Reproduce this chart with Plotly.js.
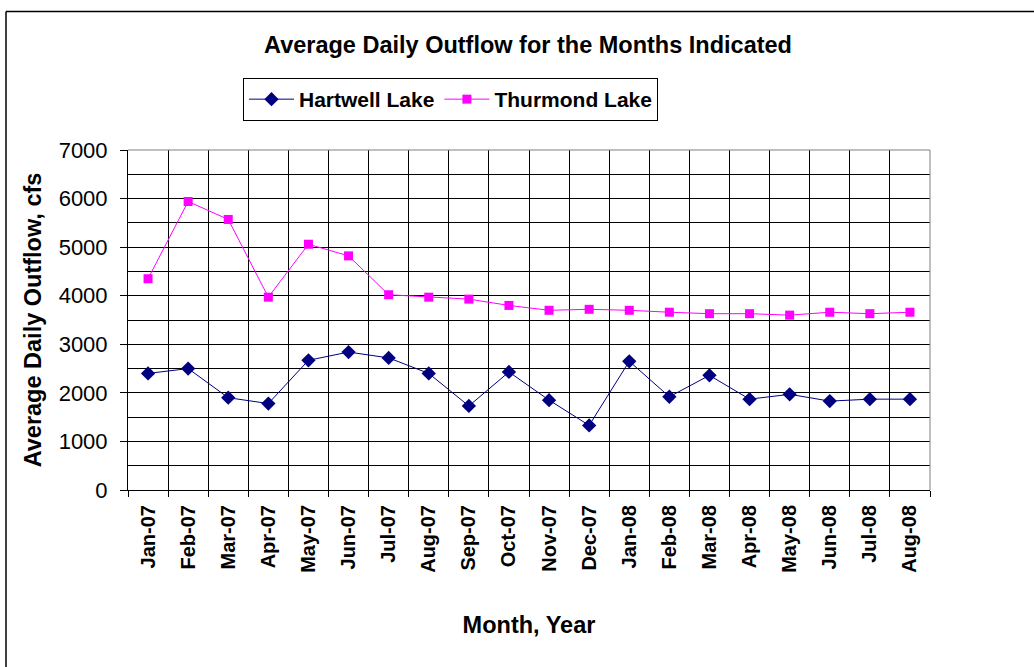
<!DOCTYPE html>
<html>
<head>
<meta charset="utf-8">
<script src="https://cdn.plot.ly/plotly-3.0.1.min.js"></script>
<style>html,body{margin:0;padding:0;background:#fff;}#chart{width:1034px;height:667px;}</style>
</head>
<body>
<div id="chart"></div>
<script>
var months = ["Jan-07","Feb-07","Mar-07","Apr-07","May-07","Jun-07","Jul-07","Aug-07","Sep-07","Oct-07","Nov-07","Dec-07","Jan-08","Feb-08","Mar-08","Apr-08","May-08","Jun-08","Jul-08","Aug-08"];
var hartwell = [2400,2500,1900,1780,2670,2840,2720,2400,1730,2430,1850,1330,2650,1920,2360,1870,1970,1830,1870,1870];
var thurmond = [4350,5940,5570,3970,5060,4820,4020,3970,3930,3800,3700,3720,3700,3660,3630,3630,3600,3660,3630,3660];

var font = "Arial, 'Liberation Sans', sans-serif";
var traces = [
  {x: months, y: hartwell, name: "Hartwell Lake", type: "scatter", mode: "lines+markers",
   line: {color: "#000080", width: 1}, marker: {symbol: "diamond", size: 11, color: "#000080"}},
  {x: months, y: thurmond, name: "Thurmond Lake", type: "scatter", mode: "lines+markers",
   line: {color: "#FF00FF", width: 1}, marker: {symbol: "square", size: 9, color: "#FF00FF"}}
];
var layout = {
  width: 1034, height: 667,
  margin: {l: 128, r: 104, t: 150, b: 177},
  paper_bgcolor: "#fff", plot_bgcolor: "#fff",
  font: {family: font, color: "#000"},
  title: {text: "<b>Average Daily Outflow for the Months Indicated</b>", font: {size: 23.5, family: font, color: "#000"},
          x: 528/1034, xanchor: "center", y: 1 - 45/667, yanchor: "middle"},
  showlegend: true,
  legend: {orientation: "h", x: (243-128)/802, y: (490-99.5)/340, xanchor: "left", yanchor: "middle",
           bordercolor: "#000", borderwidth: 1, bgcolor: "#fff", itemwidth: 45,
           font: {size: 21, family: font, color: "#000", weight: "bold"}, tracegroupgap: 0},
  xaxis: {type: "category", tickson: "boundaries", showgrid: true, gridcolor: "#000", gridwidth: 1,
          ticks: "outside", ticklen: 6, tickcolor: "#000", showline: true, linecolor: "#000", linewidth: 1,
          tickangle: -90, tickfont: {size: 20, family: font, color: "#000", weight: "bold"},
          ticklabelstandoff: 6,
          range: [-0.5, 19.5], mirror: false, zeroline: false,
          title: {text: "<b>Month, Year</b>", font: {size: 23.5, family: font, color: "#000"}, standoff: 44}},
  yaxis: {range: [0, 7000], dtick: 1000, tick0: 0, showgrid: true, gridcolor: "#000", gridwidth: 1,
          minor: {dtick: 500, showgrid: true, gridcolor: "#000", gridwidth: 1, ticks: ""},
          ticks: "outside", ticklen: 7, tickcolor: "#000", showline: true, linecolor: "#000", linewidth: 1,
          tickfont: {size: 22, family: font, color: "#000"}, zeroline: false, ticklabelstandoff: 8,
          title: {text: "<b>Average Daily Outflow, cfs</b>", font: {size: 23.5, family: font, color: "#000"}, standoff: 10}},
  shapes: [
    {type: "line", xref: "paper", yref: "paper", x0: 0, x1: 1, y0: 1, y1: 1, line: {color: "#808080", width: 1}},
    {type: "line", xref: "paper", yref: "paper", x0: 1, x1: 1, y0: 0, y1: 1, line: {color: "#808080", width: 1}},
    {type: "line", xref: "paper", yref: "paper", x0: (6-128)/802, x1: (1040-128)/802, y0: (490-11.5)/340, y1: (490-11.5)/340, line: {color: "#000", width: 1.5}},
    {type: "line", xref: "paper", yref: "paper", x0: (6-128)/802, x1: (6-128)/802, y0: (490-11.5)/340, y1: (490-680)/340, line: {color: "#000", width: 1.5}}
  ]
};
Plotly.newPlot("chart", traces, layout, {displayModeBar: false, staticPlot: true});
</script>
</body>
</html>
